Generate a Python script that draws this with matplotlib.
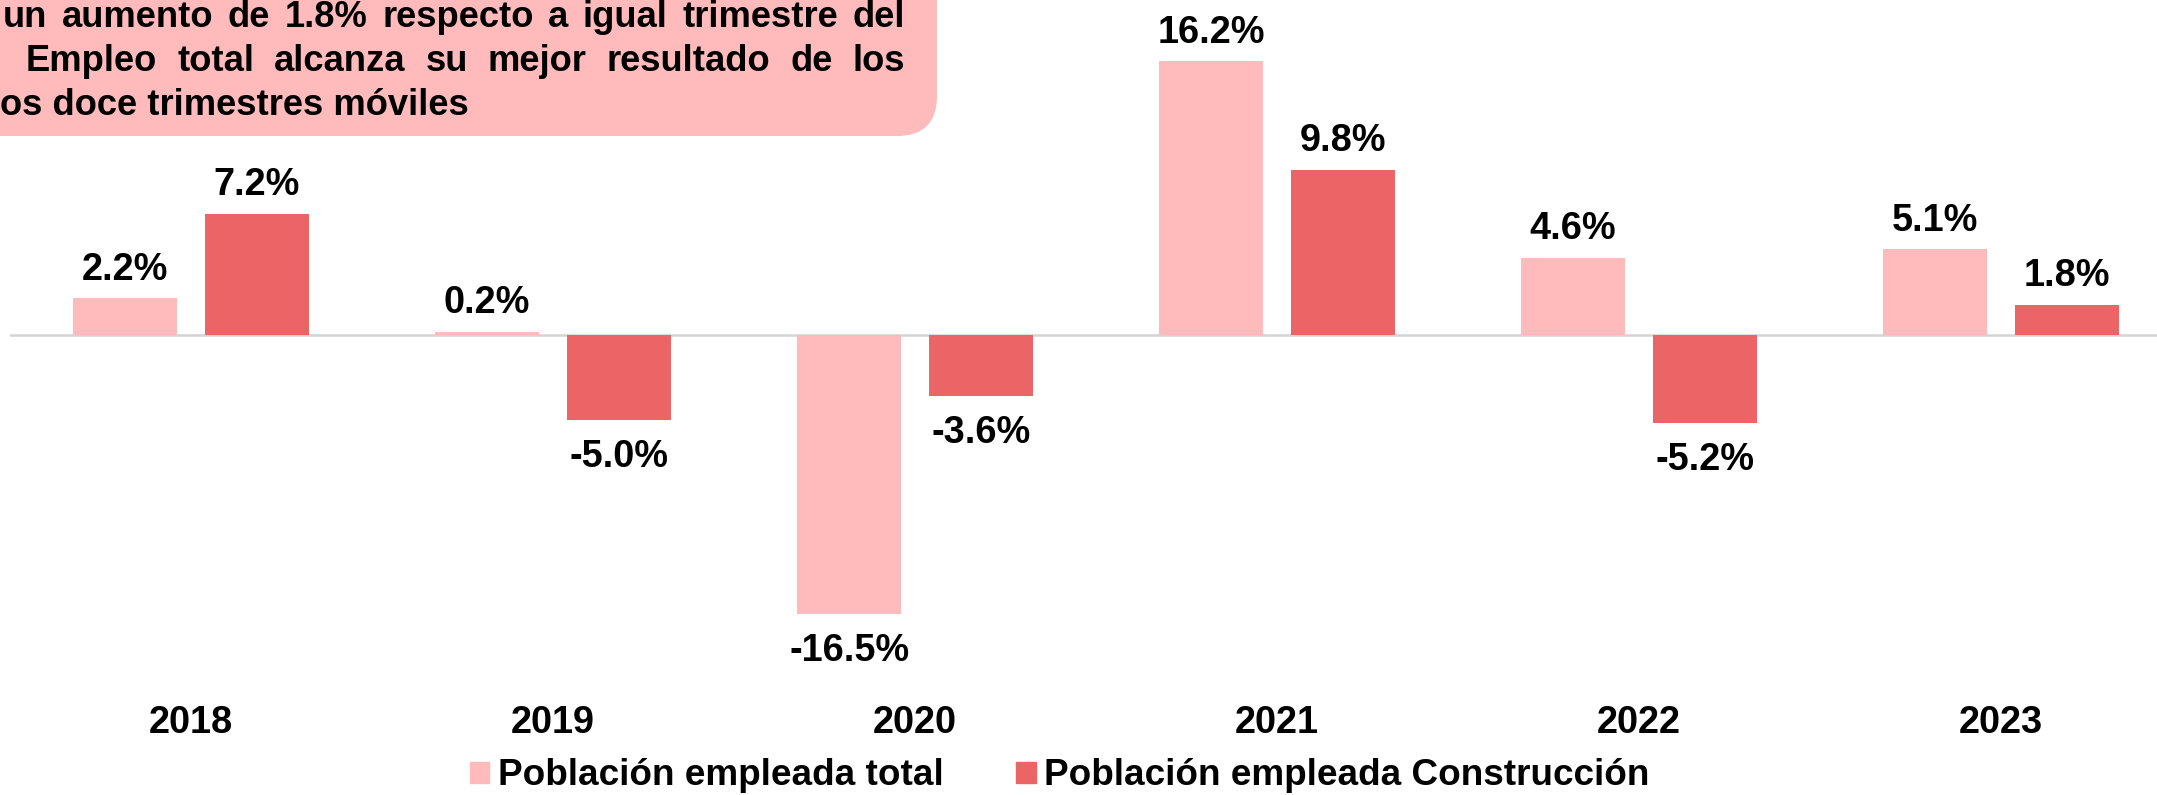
import matplotlib
matplotlib.use("Agg")
import matplotlib.pyplot as plt
from matplotlib.patches import FancyBboxPatch, Patch

years = ["2018", "2019", "2020", "2021", "2022", "2023"]
total = [2.2, 0.2, -16.5, 16.2, 4.6, 5.1]
constr = [7.2, -5.0, -3.6, 9.8, -5.2, 1.8]
labels = ["Población empleada total", "Población empleada Construcción"]

box_lines = [
    "un aumento de 1.8% respecto a igual trimestre del",
    "Empleo total alcanza su mejor resultado de los",
    "os doce trimestres móviles",
]

c_total = "#FFBBBC"
c_constr = "#EB6567"
c_box = "#FFBBBB"

plt.rcParams["font.family"] = ["Liberation Sans", "DejaVu Sans"]
plt.rcParams["font.weight"] = "bold"

W, H = 2157, 795
fig = plt.figure(figsize=(W / 100, H / 100), dpi=100)

# background layer in pixel units for the note box
bg = fig.add_axes([0, 0, 1, 1], zorder=0)
bg.set_xlim(0, W)
bg.set_ylim(H, 0)
bg.axis("off")
bg.add_patch(FancyBboxPatch((-80, -80), 937 + 80, 136 + 80,
                            boxstyle="round,pad=0,rounding_size=40",
                            facecolor=c_box, edgecolor="none"))

fs_box = 26.2
renderer = fig.canvas.get_renderer()
# justified lines: (start x, end x, baseline y)
line_pos = [(3, 905, 27), (26, 905, 71), (0, None, 115)]
for text, (x0, x1, yb) in zip(box_lines, line_pos):
    if x1 is None:
        bg.text(x0, yb, text, fontsize=fs_box, fontweight="bold", va="baseline", ha="left")
        continue
    words = text.split()
    objs = [bg.text(0, yb, w, fontsize=fs_box, fontweight="bold", va="baseline", ha="left")
            for w in words]
    widths = [o.get_window_extent(renderer).width for o in objs]
    gap = (x1 - x0 - sum(widths)) / (len(words) - 1)
    x = x0
    for o, w in zip(objs, widths):
        o.set_x(x)
        x += w + gap

ax = fig.add_axes([10 / W, 0.1531, (W - 10) / W, 0.8397], zorder=1)
ax.patch.set_alpha(0)
idx = list(range(len(years)))
bw = 0.287
off = 0.182
b1 = ax.bar([i - off for i in idx], total, bw, color=c_total, zorder=3)
b2 = ax.bar([i + off for i in idx], constr, bw, color=c_constr, zorder=3)
ax.axhline(0, color="#D4D4D4", lw=1.8, zorder=2)

fs = 27.3
for bars, vals in ((b1, total), (b2, constr)):
    for bar, v in zip(bars, vals):
        xc = bar.get_x() + bar.get_width() / 2
        dy = 13.3 if v >= 0 else -33.8
        ax.annotate(f"{v:.1f}%", (xc, v), xytext=(0, dy), textcoords="offset points",
                    ha="center", va="baseline", fontsize=fs, fontweight="bold")

ax.set_xlim(-0.5, -0.5 + (W - 10) / 362)
ax.set_ylim(-20, 19.5)
ax.set_xticks(idx, years)
ax.tick_params(axis="x", length=0, pad=23, labelsize=27.3)
for t in ax.get_xticklabels():
    t.set_fontweight("bold")
ax.set_yticks([])
for s in ax.spines.values():
    s.set_visible(False)

handles = [Patch(color=c_total), Patch(color=c_constr)]
fig.legend(handles, labels, loc="center", bbox_to_anchor=(1060 / W, 0.0239), ncol=2,
           frameon=False, prop={"size": 26.6, "weight": "bold"},
           handlelength=0.52, handleheight=0.52, handletextpad=0.24,
           columnspacing=1.96, borderpad=0, borderaxespad=0)

fig.savefig("out.png", dpi=100)
